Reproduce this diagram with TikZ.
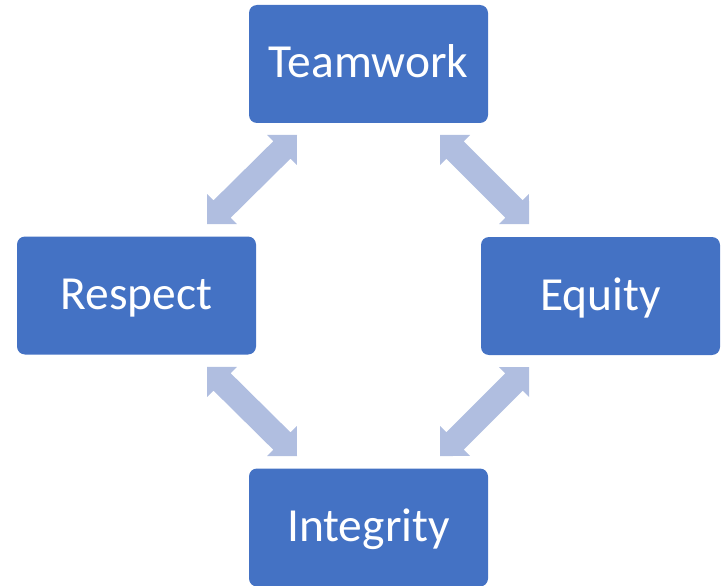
\documentclass[tikz,border=0pt]{standalone}
\usepackage{fontspec}
\setmainfont{Carlito}
\usetikzlibrary{calc}
\definecolor{boxblue}{HTML}{4472C4}
\definecolor{arrowc}{HTML}{B0BEE0}
\tikzset{
  valuebox/.style={fill=boxblue, rounded corners=8pt, minimum width=239pt,
    minimum height=118pt, inner sep=0pt, text=white,
    text height=30pt, text depth=2pt,
    font=\fontsize{47.5pt}{57pt}\selectfont},
}
% double block arrow between two named coordinates (tip angle 90 deg)
\newcommand\dblarrow[2]{%
  \fill[arrowc] let \p1=($(#2)-(#1)$), \n1={atan2(\y1,\x1)}, \n2={veclen(\x1,\y1)} in
    (#1) -- ++(\n1+45:30pt) -- ++(\n1-90:9pt)
    -- ++(\n1:{\n2*1pt-42.4pt}) -- ++(\n1+90:9pt) -- (#2)
    -- ++(\n1+225:30pt) -- ++(\n1+90:9pt)
    -- ++(\n1+180:{\n2*1pt-42.4pt}) -- ++(\n1-90:9pt) -- cycle;%
}
\begin{document}
\begin{tikzpicture}[x=1pt,y=-1pt]
\useasboundingbox (0,0) rectangle (724,586);
\node[valuebox] (team) at (368.5,64) {Teamwork};
\node[valuebox] (resp) at (136.5,295.5) {Respect};
\node[valuebox] (equi) at (600.5,296) {Equity};
\node[valuebox] (inte) at (368.5,527.5) {Integrity};
\coordinate (a1) at (297,135);
\coordinate (b1) at (207,224);
\coordinate (a2) at (440,135);
\coordinate (b2) at (529,224);
\coordinate (a3) at (207,367);
\coordinate (b3) at (297,456);
\coordinate (a4) at (529,367);
\coordinate (b4) at (440,456);
\dblarrow{a1}{b1}
\dblarrow{a2}{b2}
\dblarrow{a3}{b3}
\dblarrow{a4}{b4}
\end{tikzpicture}
\end{document}
